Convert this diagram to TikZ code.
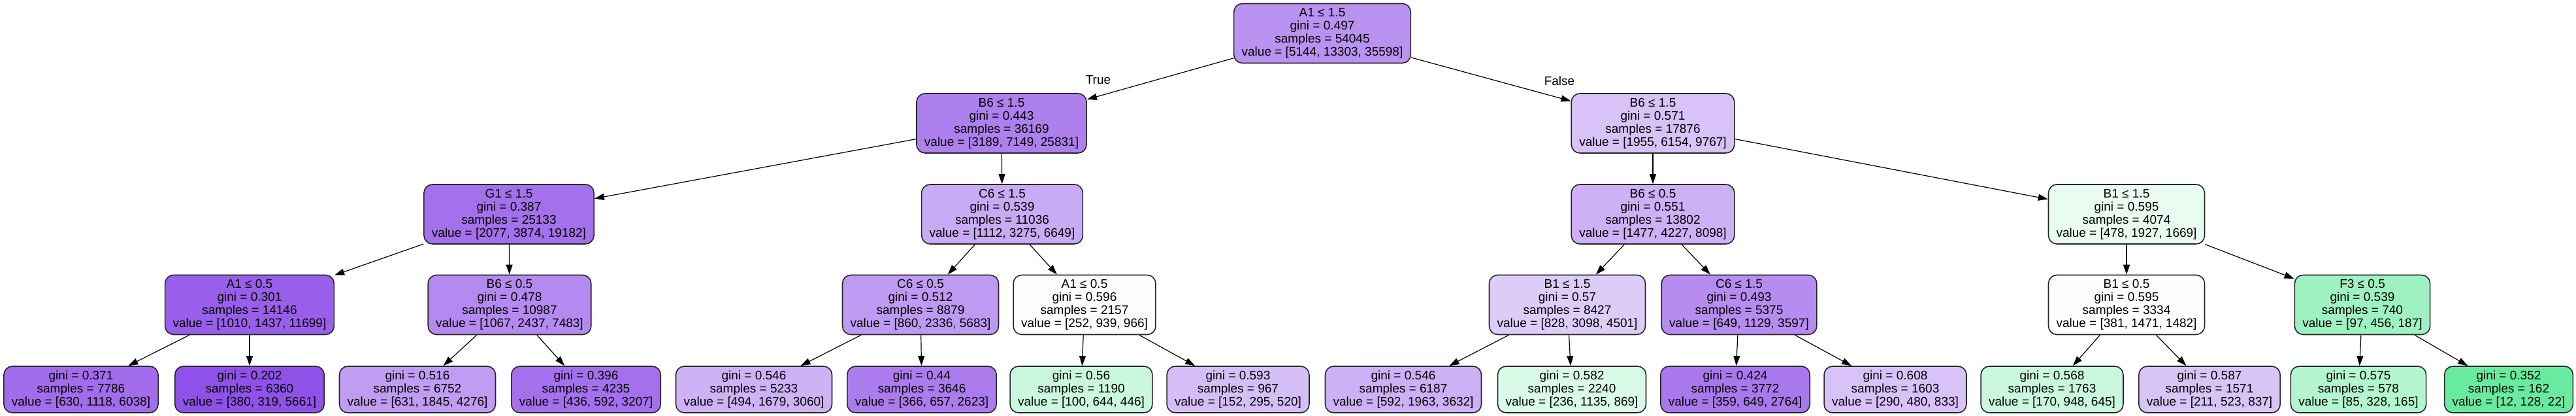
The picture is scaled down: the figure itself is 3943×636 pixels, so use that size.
\documentclass[tikz,border=0pt]{standalone}
\usepackage{fontspec}
\setmainfont{Liberation Sans}
\usetikzlibrary{arrows.meta}
\definecolor{cpurple}{RGB}{129,57,229}
\definecolor{cgreen}{RGB}{57,229,129}
\tikzset{
  splitnode/.style={draw=black!85, line width=1.6pt, rounded corners=13pt,
    align=center, inner xsep=12pt, minimum height=91pt,
    font=\fontsize{19}{20}\selectfont},
  leafnode/.style={splitnode, minimum height=71pt},
  treeedge/.style={-{Triangle[length=15pt,width=10pt]}, line width=1.2pt},
  edgelbl/.style={font=\fontsize{19}{20}\selectfont}
}
\begin{document}
\begin{tikzpicture}[x=1pt,y=-1pt]
  \useasboundingbox (0,0) rectangle (3943,636);
  % Racine
  \node[splitnode, fill=cpurple!55] (root) at (2024,51) {A1 ≤ 1.5\\gini = 0.497\\samples = 54045\\value = [5144, 13303, 35598]};
  % Niveau 1
  \node[splitnode, fill=cpurple!64] (l) at (1533,188.5) {B6 ≤ 1.5\\gini = 0.443\\samples = 36169\\value = [3189, 7149, 25831]};
  \node[splitnode, fill=cpurple!31] (r) at (2530,188.5) {B6 ≤ 1.5\\gini = 0.571\\samples = 17876\\value = [1955, 6154, 9767]};
  % Niveau 2
  \node[splitnode, fill=cpurple!72] (ll) at (779,327.5) {G1 ≤ 1.5\\gini = 0.387\\samples = 25133\\value = [2077, 3874, 19182]};
  \node[splitnode, fill=cpurple!43] (lr) at (1534,327.5) {C6 ≤ 1.5\\gini = 0.539\\samples = 11036\\value = [1112, 3275, 6649]};
  \node[splitnode, fill=cpurple!40] (rl) at (2530,327.5) {B6 ≤ 0.5\\gini = 0.551\\samples = 13802\\value = [1477, 4227, 8098]};
  \node[splitnode, fill=cgreen!11] (rr) at (3255,327.5) {B1 ≤ 1.5\\gini = 0.595\\samples = 4074\\value = [478, 1927, 1669]};
  % Niveau 3
  \node[splitnode, fill=cpurple!81] (lll) at (382,466) {A1 ≤ 0.5\\gini = 0.301\\samples = 14146\\value = [1010, 1437, 11699]};
  \node[splitnode, fill=cpurple!59] (llr) at (780,466) {B6 ≤ 0.5\\gini = 0.478\\samples = 10987\\value = [1067, 2437, 7483]};
  \node[splitnode, fill=cpurple!51] (lrl) at (1409,466) {C6 ≤ 0.5\\gini = 0.512\\samples = 8879\\value = [860, 2336, 5683]};
  \node[splitnode, fill=cpurple!2] (lrr) at (1660,466) {A1 ≤ 0.5\\gini = 0.596\\samples = 2157\\value = [252, 939, 966]};
  \node[splitnode, fill=cpurple!26] (rll) at (2399,466) {B1 ≤ 1.5\\gini = 0.57\\samples = 8427\\value = [828, 3098, 4501]};
  \node[splitnode, fill=cpurple!58] (rlr) at (2662,466) {C6 ≤ 1.5\\gini = 0.493\\samples = 5375\\value = [649, 1129, 3597]};
  \node[splitnode, fill=cpurple!1] (rrl) at (3255,466) {B1 ≤ 0.5\\gini = 0.595\\samples = 3334\\value = [381, 1471, 1482]};
  \node[splitnode, fill=cgreen!49] (rrr) at (3616,466) {F3 ≤ 0.5\\gini = 0.539\\samples = 740\\value = [97, 456, 187]};
  % Feuilles
  \node[leafnode, fill=cpurple!74] (f1) at (124,595.5) {gini = 0.371\\samples = 7786\\value = [630, 1118, 6038]};
  \node[leafnode, fill=cpurple!88] (f2) at (382,595.5) {gini = 0.202\\samples = 6360\\value = [380, 319, 5661]};
  \node[leafnode, fill=cpurple!50] (f3) at (639,595.5) {gini = 0.516\\samples = 6752\\value = [631, 1845, 4276]};
  \node[leafnode, fill=cpurple!72] (f4) at (897,595.5) {gini = 0.396\\samples = 4235\\value = [436, 592, 3207]};
  \node[leafnode, fill=cpurple!39] (f5) at (1154,595.5) {gini = 0.546\\samples = 5233\\value = [494, 1679, 3060]};
  \node[leafnode, fill=cpurple!66] (f6) at (1411,595.5) {gini = 0.44\\samples = 3646\\value = [366, 657, 2623]};
  \node[leafnode, fill=cgreen!27] (f7) at (1655,595.5) {gini = 0.56\\samples = 1190\\value = [100, 644, 446]};
  \node[leafnode, fill=cpurple!33] (f8) at (1895,595.5) {gini = 0.593\\samples = 967\\value = [152, 295, 520]};
  \node[leafnode, fill=cpurple!40] (f9) at (2148,595.5) {gini = 0.546\\samples = 6187\\value = [592, 1963, 3632]};
  \node[leafnode, fill=cgreen!19] (f10) at (2406,595.5) {gini = 0.582\\samples = 2240\\value = [236, 1135, 869]};
  \node[leafnode, fill=cpurple!68] (f11) at (2656,595.5) {gini = 0.424\\samples = 3772\\value = [359, 649, 2764]};
  \node[leafnode, fill=cpurple!31] (f12) at (2901,595.5) {gini = 0.608\\samples = 1603\\value = [290, 480, 833]};
  \node[leafnode, fill=cgreen!27] (f13) at (3141,595.5) {gini = 0.568\\samples = 1763\\value = [170, 948, 645]};
  \node[leafnode, fill=cpurple!30] (f14) at (3382,595.5) {gini = 0.587\\samples = 1571\\value = [211, 523, 837]};
  \node[leafnode, fill=cgreen!39] (f15) at (3610,595.5) {gini = 0.575\\samples = 578\\value = [85, 328, 165]};
  \node[leafnode, fill=cgreen!76] (f16) at (3840,595.5) {gini = 0.352\\samples = 162\\value = [12, 128, 22]};
  % Branches
  \draw[treeedge] (root) -- (l);
  \draw[treeedge] (root) -- (r);
  \draw[treeedge] (l) -- (ll);
  \draw[treeedge] (l) -- (lr);
  \draw[treeedge] (r) -- (rl);
  \draw[treeedge] (r) -- (rr);
  \draw[treeedge] (ll) -- (lll);
  \draw[treeedge] (ll) -- (llr);
  \draw[treeedge] (lr) -- (lrl);
  \draw[treeedge] (lr) -- (lrr);
  \draw[treeedge] (rl) -- (rll);
  \draw[treeedge] (rl) -- (rlr);
  \draw[treeedge] (rr) -- (rrl);
  \draw[treeedge] (rr) -- (rrr);
  \draw[treeedge] (lll) -- (f1);
  \draw[treeedge] (lll) -- (f2);
  \draw[treeedge] (llr) -- (f3);
  \draw[treeedge] (llr) -- (f4);
  \draw[treeedge] (lrl) -- (f5);
  \draw[treeedge] (lrl) -- (f6);
  \draw[treeedge] (lrr) -- (f7);
  \draw[treeedge] (lrr) -- (f8);
  \draw[treeedge] (rll) -- (f9);
  \draw[treeedge] (rll) -- (f10);
  \draw[treeedge] (rlr) -- (f11);
  \draw[treeedge] (rlr) -- (f12);
  \draw[treeedge] (rrl) -- (f13);
  \draw[treeedge] (rrl) -- (f14);
  \draw[treeedge] (rrr) -- (f15);
  \draw[treeedge] (rrr) -- (f16);
  % Etiquettes
  \node[edgelbl] (truelbl) at (1681,122) {True};
  \node[edgelbl] (falselbl) at (2387,124) {False};
\end{tikzpicture}
\end{document}
